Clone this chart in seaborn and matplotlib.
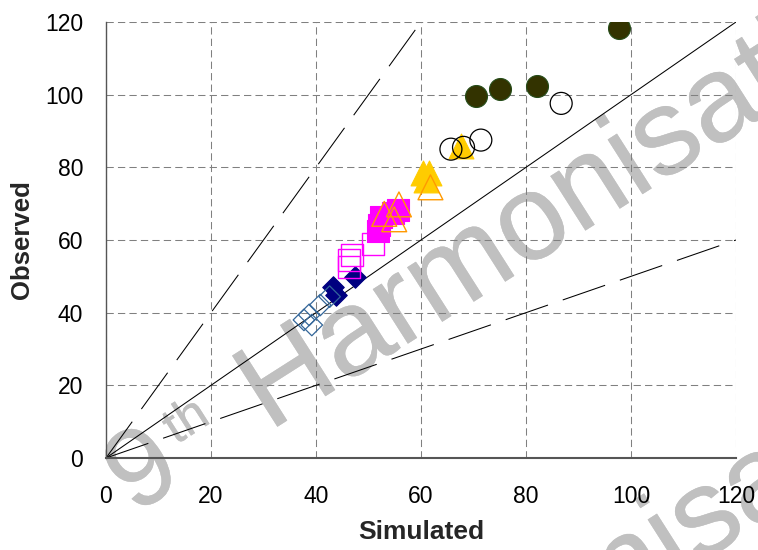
import numpy as np
import matplotlib
matplotlib.use("Agg")
import matplotlib.pyplot as plt
import matplotlib.patheffects as pe
import seaborn as sns

# Simulated (x) and observed (y) values, one pair of lists per series
diam_fill_sim = [47.4, 43.3, 43.9]
diam_fill_obs = [49.9, 47.2, 44.9]
diam_open_sim = [42.6, 40.8, 38.7, 37.7, 39.2]
diam_open_obs = [44.4, 42.1, 39.4, 38.0, 36.6]
sq_fill_sim = [55.7, 54.6, 52.3, 52.0, 51.9]
sq_fill_obs = [68.3, 67.4, 66.4, 64.2, 62.6]
sq_open_sim = [50.9, 46.9, 46.2, 46.3]
sq_open_obs = [59.0, 55.9, 54.4, 52.7]
tri_fill_sim = [60.4, 61.5, 61.0, 67.6]
tri_fill_obs = [78.5, 78.5, 76.5, 86.0]
tri_open_sim = [61.8, 55.8, 53.0, 54.9]
tri_open_obs = [74.5, 69.8, 67.2, 65.7]
circ_fill_sim = [70.5, 75.0, 82.0, 97.8]
circ_fill_obs = [99.6, 101.6, 102.3, 118.4]
circ_open_sim = [65.7, 68.1, 71.4, 86.7]
circ_open_obs = [85.0, 85.5, 87.5, 97.6]

axis_ticks = [0, 20, 40, 60, 80, 100, 120]
x_label = "Simulated"
y_label = "Observed"
stamp_parts = ["9", "th", "Harmonisation"]

sns.set_style("white")
plt.rcParams["font.family"] = ["Liberation Sans", "DejaVu Sans"]

W, H = 758, 550
fig = plt.figure(figsize=(W / 100, H / 100), dpi=100)
ax = fig.add_axes([106 / W, 1 - 458 / H, 630 / W, 436 / H])

# (x, y, marker, size, face, edge, linewidth) in drawing order
series = [
    (diam_fill_sim, diam_fill_obs, "D", 120, "#000080", "#000080", 0.8),
    (diam_open_sim, diam_open_obs, "D", 120, "none", "#336699", 0.9),
    (sq_fill_sim, sq_fill_obs, "s", 250, "#FF00FF", "#FF00FF", 0.8),
    (sq_open_sim, sq_open_obs, "s", 250, "none", "#FF00FF", 1.0),
    (tri_fill_sim, tri_fill_obs, "^", 320, "#FFCC00", "#FFCC00", 0.8),
    (tri_open_sim, tri_open_obs, "^", 320, "none", "#FF9900", 1.0),
    (circ_fill_sim, circ_fill_obs, "o", 250, "#333300", "#264d1a", 0.8),
    (circ_open_sim, circ_open_obs, "o", 250, "none", "#000000", 0.9),
]
for xs, ys, mk, sz, face, edge, lw in series:
    sns.scatterplot(x=xs, y=ys, marker=mk, s=sz, color=edge,
                    facecolor=face, edgecolor=edge, linewidth=lw,
                    zorder=3, legend=False, ax=ax)

# 1:1 line and factor-of-two lines
lim = np.array([axis_ticks[0], axis_ticks[-1]], dtype=float)
ax.plot(lim, lim, color="black", lw=0.75, zorder=2)
ax.plot(lim / 2, lim, color="black", lw=0.75, ls=(0, (43, 15)), zorder=2)
ax.plot(lim, lim / 2, color="black", lw=0.75, ls=(0, (43, 15)), zorder=2)

ax.set_xlim(lim)
ax.set_ylim(lim)
ax.set_xticks(axis_ticks)
ax.set_yticks(axis_ticks)
ax.grid(True, color="#808080", linestyle=(0, (7, 4)), linewidth=0.75)
for side in ["top", "right"]:
    ax.spines[side].set_visible(False)
ax.spines["left"].set_color("#555555")
ax.spines["left"].set_linewidth(1.0)
ax.spines["bottom"].set_color("#555555")
ax.spines["bottom"].set_linewidth(1.5)
ax.tick_params(direction="out", length=4.3, width=0.75, color="black",
               labelsize=16.5, labelcolor="black")
ax.tick_params(axis="x", pad=15)
ax.tick_params(axis="y", pad=12)
ax.set_xlabel(x_label, fontsize=19, fontweight="bold", labelpad=9)
ax.set_ylabel(y_label, fontsize=18.5, fontweight="bold", labelpad=8)
ax.xaxis.set_zorder(1.4)
ax.yaxis.set_zorder(1.4)

# Gray stamp text across the plot, repeated lower right
ang = 32.5
stamp_color = "#C0C0C0"
def stamp(x_px, y_px, text, size):
    ax.text(x_px / W, 1 - y_px / H, text, transform=fig.transFigure,
            fontsize=size, color=stamp_color, rotation=ang,
            rotation_mode="anchor", ha="left", va="baseline",
            clip_on=False, zorder=1.2,
            path_effects=[pe.withStroke(linewidth=0.25, foreground=stamp_color)])

for dx, dy in [(0, 0), (40, 380)]:
    stamp(134 + dx, 515 + dy, stamp_parts[0], 80)
    stamp(176 + dx, 445 + dy, stamp_parts[1], 37)
    stamp(269 + dx, 432 + dy, stamp_parts[2], 88)

fig.savefig("out.png", dpi=100)
